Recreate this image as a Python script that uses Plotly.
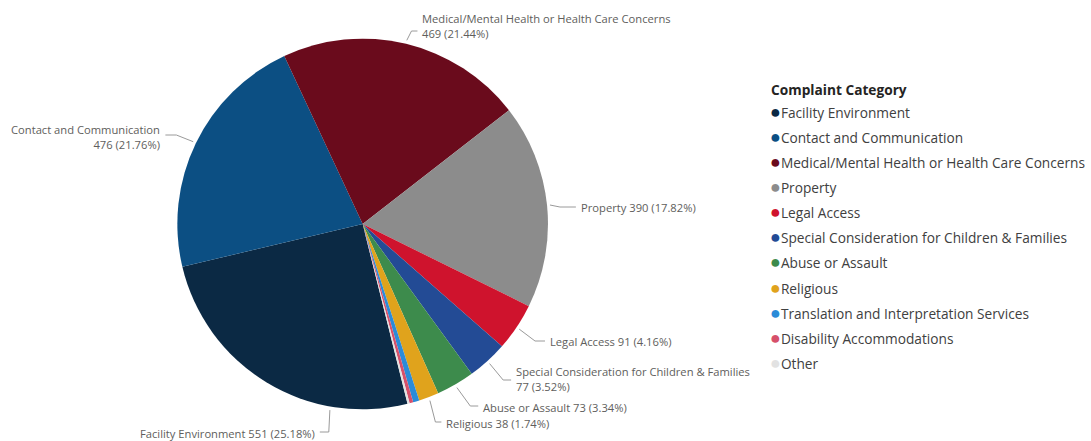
import math
import plotly.graph_objects as go

# ---------------- data ----------------
categories = [
    "Facility Environment",
    "Contact and Communication",
    "Medical/Mental Health or Health Care Concerns",
    "Property",
    "Legal Access",
    "Special Consideration for Children & Families",
    "Abuse or Assault",
    "Religious",
    "Translation and Interpretation Services",
    "Disability Accommodations",
    "Other",
]
values = [551, 476, 469, 390, 91, 77, 73, 38, 12, 7, 4]
legend_title = "Complaint Category"

# ---------------- style ----------------
colors = ["#0b2944", "#0c4f83", "#6a0b1c", "#8c8c8c", "#cf132d", "#234b95",
          "#3d8b4c", "#e0a31c", "#2b8bd8", "#d6506a", "#e2e2e2"]

W, H = 1091, 441
CX, CY, R = 364, 224, 186          # pie centre / radius in pixels
ROTATION = 166

# label layout per slice index
label_layout = {
    0: dict(end=(321, 432), elbow=(330, 432), side="left", dy=1, frac=0.265, wrap=False),
    1: dict(end=(166, 135), elbow=(177, 135), side="left", dy=2, frac=0.5, wrap=True),
    2: dict(end=(419, 31), elbow=(413, 31), side="right", dy=-5, frac=0.5, wrap=True),
    3: dict(end=(578, 207), elbow=(562, 207), side="right", dy=0, frac=0.5, wrap=False),
    4: dict(end=(547, 341), elbow=(537, 341), side="right", dy=0, frac=0.5, wrap=False),
    5: dict(end=(513, 380), elbow=(505, 380), side="right", dy=-1, frac=0.5, wrap=True),
    6: dict(end=(480, 406), elbow=(472, 406), side="right", dy=1, frac=0.5, wrap=False),
    7: dict(end=(443, 422), elbow=(437, 422), side="right", dy=1, frac=0.5, wrap=False),
}

FONT = "Segoe UI, Open Sans, sans-serif"

total = sum(values)

fig = go.Figure()

fig.add_trace(go.Pie(
    labels=categories,
    values=values,
    sort=False,
    direction="clockwise",
    rotation=ROTATION,
    marker=dict(colors=colors, line=dict(width=0)),
    textinfo="none",
    hoverinfo="label+value+percent",
    showlegend=False,
    domain=dict(x=[(CX - R) / W, (CX + R) / W],
                y=[(H - CY - R) / H, (H - CY + R) / H]),
))

# legend entries: coloured dot drawn as text right before the name
for name, col in zip(categories, colors):
    fig.add_trace(go.Scatter(
        x=[None], y=[None], mode="markers",
        name=f"<span style='color:{col};font-size:18px'>●</span>{name}",
        marker=dict(color="rgba(0,0,0,0)", size=0),
        legendgroup=name, showlegend=True, hoverinfo="skip",
    ))

# leader lines and labels computed from the slice angles
cum = 0.0
shapes = []
annotations = []
for i, v in enumerate(values):
    start = ROTATION + cum / total * 360.0
    span = v / total * 360.0
    cum += v
    if i not in label_layout:
        continue
    lay = label_layout[i]
    ang = math.radians(start + lay["frac"] * span)
    ax = CX + (R + 3) * math.sin(ang)
    ay = CY - (R + 3) * math.cos(ang)
    ex, ey = lay["elbow"]
    nx, ny = lay["end"]
    shapes.append(dict(
        type="path", xref="x", yref="y",
        path=f"M {ax:.1f},{ay:.1f} L {ex},{ey} L {nx},{ny}",
        line=dict(color="#9a9a9a", width=1),
    ))
    pct = v / total * 100
    sep = "<br>" if lay["wrap"] else " "
    text = f"{categories[i]}{sep}{v} ({pct:.2f}%)"
    right = lay["side"] == "right"
    annotations.append(dict(
        x=nx + (3 if right else -3), y=ny + lay["dy"], xref="x", yref="y",
        text=text, showarrow=False,
        xanchor="left" if right else "right", yanchor="middle",
        align="left" if right else "right",
        font=dict(family=FONT, size=11.2, color="#605e5c"),
    ))

# legend title
annotations.append(dict(
    x=772, y=89, xref="x", yref="y", text="<b>" + legend_title + "</b>",
    showarrow=False, xanchor="left", yanchor="middle",
    font=dict(family=FONT, size=13.7, color="#252423"),
))

fig.update_layout(
    width=W, height=H,
    margin=dict(l=0, r=0, t=0, b=0),
    paper_bgcolor="white", plot_bgcolor="white",
    xaxis=dict(range=[0, W], visible=False, domain=[0, 1], fixedrange=True),
    yaxis=dict(range=[H, 0], visible=False, domain=[0, 1], fixedrange=True),
    shapes=shapes,
    annotations=annotations,
    showlegend=True,
    legend=dict(
        font=dict(family=FONT, size=13.7, color="#404040"),
        x=733 / W, xanchor="left", y=1 - 97 / H, yanchor="top",
        tracegroupgap=4.3, itemwidth=30,
        bgcolor="rgba(0,0,0,0)",
    ),
)

fig.write_html("out.html")
